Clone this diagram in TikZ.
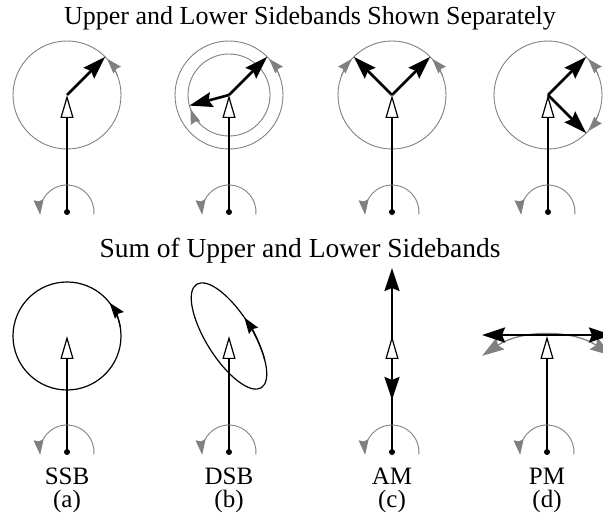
\documentclass[tikz,border=0pt]{standalone}
\usepackage{fontspec}
\setmainfont{Liberation Serif}
\usetikzlibrary{arrows.meta}

\tikzset{
  carrier/.style={line width=1.7pt, -{Triangle[length=23pt,width=13pt,fill=white,line width=1.2pt]}},
  vec/.style={line width=2.6pt, -{Stealth[length=23pt,width=15pt,inset=3pt]}},
  ring/.style={draw=gray, line width=0.9pt},
  spin/.style={gray, line width=0.9pt, -{Stealth[length=15pt,width=10pt,inset=1.5pt]}},
  bigspin/.style={gray, line width=1.3pt, {Stealth[length=22pt,width=14pt,inset=3pt]}-{Stealth[length=22pt,width=14pt,inset=3pt]}},
  locus/.style={line width=1.2pt},
  txt/.style={font=\fontsize{25}{28}\selectfont, anchor=base, inner sep=0pt},
}

\begin{document}
\begin{tikzpicture}[x=1pt, y=1pt]
\useasboundingbox (0,0) rectangle (603,516);

\node[txt, font=\fontsize{26}{30}\selectfont] (title1) at (310,491) {Upper and Lower Sidebands Shown Separately};
\node[txt, font=\fontsize{27.5}{30}\selectfont] (title2) at (300,258) {Sum of Upper and Lower Sidebands};

% upper row: carrier tips and pivots
\coordinate (car1) at (67,421);
\coordinate (piv1) at (67,304);
\coordinate (car2) at (229,421);
\coordinate (piv2) at (229,304);
\coordinate (car3) at (392,421);
\coordinate (piv3) at (392,304);
\coordinate (car4) at (548,421);
\coordinate (piv4) at (548,304);

% lower row
\coordinate (car5) at (67,180);
\coordinate (piv5) at (67,64);
\coordinate (car6) at (229,180);
\coordinate (piv6) at (229,64);
\coordinate (car7) at (392,180);
\coordinate (piv7) at (392,64);
\coordinate (car8) at (547,180);
\coordinate (piv8) at (547,64);

% (a) upper sideband only
\draw[ring] (car1) circle (54);
\draw[spin] ([shift={(20:54)}]car1) arc (20:42:54);
\coordinate (usb1) at ([shift={(45:54)}]car1);
\draw[vec] (car1) -- (usb1);

% (b) two sidebands of unequal size
\draw[ring] (car2) circle (54);
\draw[ring] (car2) circle (41);
\draw[spin] ([shift={(20:54)}]car2) arc (20:42:54);
\draw[spin] ([shift={(225:41)}]car2) arc (225:200:41);
\coordinate (usb2) at ([shift={(45:54)}]car2);
\coordinate (lsb2) at ([shift={(195:41)}]car2);
\draw[vec] (car2) -- (usb2);
\draw[vec] (car2) -- (lsb2);

% (c) AM
\draw[ring] (car3) circle (54);
\draw[spin] ([shift={(20:54)}]car3) arc (20:42:54);
\draw[spin] ([shift={(160:54)}]car3) arc (160:138:54);
\coordinate (usb3) at ([shift={(45:54)}]car3);
\coordinate (lsb3) at ([shift={(135:54)}]car3);
\draw[vec] (car3) -- (usb3);
\draw[vec] (car3) -- (lsb3);

% (d) PM
\draw[ring] (car4) circle (54);
\draw[spin] ([shift={(20:54)}]car4) arc (20:42:54);
\draw[spin] ([shift={(-20:54)}]car4) arc (-20:-42:54);
\coordinate (usb4) at ([shift={(45:54)}]car4);
\coordinate (lsb4) at ([shift={(-45:54)}]car4);
\draw[vec] (car4) -- (usb4);
\draw[vec] (car4) -- (lsb4);

% sums
\draw[locus] (car5) circle (54);
\draw[locus, -{Stealth[length=16pt,width=11pt,inset=2pt]}] ([shift={(10:54)}]car5) arc (10:38:54);

\begin{scope}[shift={(car6)}, rotate=-58]
\draw[locus] (0,0) ellipse (61 and 23);
\draw[locus, -{Stealth[length=16pt,width=11pt,inset=2pt]}] (50:61 and 23) arc[start angle=50, end angle=97, x radius=61, y radius=23];
\end{scope}

\coordinate (up7) at ([shift={(0,68)}]car7);
\coordinate (dn7) at ([shift={(0,-64)}]car7);
\draw[vec] (car7) -- (up7);
\draw[vec] (car7) -- (dn7);

\draw[bigspin] ([shift={(124:116)}]piv8) arc (124:56:116);
\coordinate (lf8) at ([shift={(-65,1)}]car8);
\coordinate (rt8) at ([shift={(65,1)}]car8);
\draw[vec] ([shift={(0,1)}]car8) -- (lf8);
\draw[vec] ([shift={(0,1)}]car8) -- (rt8);

% carriers, pivots and their rotation
\draw[carrier] (piv1) -- (car1);
\draw[carrier] (piv2) -- (car2);
\draw[carrier] (piv3) -- (car3);
\draw[carrier] (piv4) -- (car4);
\draw[carrier] (piv5) -- (car5);
\draw[carrier] (piv6) -- (car6);
\draw[carrier] (piv7) -- (car7);
\draw[carrier] (piv8) -- (car8);

\draw[spin] ([shift={(-5:27)}]piv1) arc (-5:186:27);
\draw[spin] ([shift={(-5:27)}]piv2) arc (-5:186:27);
\draw[spin] ([shift={(-5:27)}]piv3) arc (-5:186:27);
\draw[spin] ([shift={(-5:27)}]piv4) arc (-5:186:27);
\draw[spin] ([shift={(-5:27)}]piv5) arc (-5:186:27);
\draw[spin] ([shift={(-5:27)}]piv6) arc (-5:186:27);
\draw[spin] ([shift={(-5:27)}]piv7) arc (-5:186:27);
\draw[spin] ([shift={(-5:27)}]piv8) arc (-5:186:27);

\fill (piv1) circle (3);
\fill (piv2) circle (3);
\fill (piv3) circle (3);
\fill (piv4) circle (3);
\fill (piv5) circle (3);
\fill (piv6) circle (3);
\fill (piv7) circle (3);
\fill (piv8) circle (3);

\node[txt] (lab1) at (67,31) {SSB};
\node[txt] (lab2) at (229,31) {DSB};
\node[txt] (lab3) at (392,31) {AM};
\node[txt] (lab4) at (547,31) {PM};
\node[txt] (sub1) at (67,8) {(a)};
\node[txt] (sub2) at (229,8) {(b)};
\node[txt] (sub3) at (392,8) {(c)};
\node[txt] (sub4) at (547,8) {(d)};
\end{tikzpicture}
\end{document}
